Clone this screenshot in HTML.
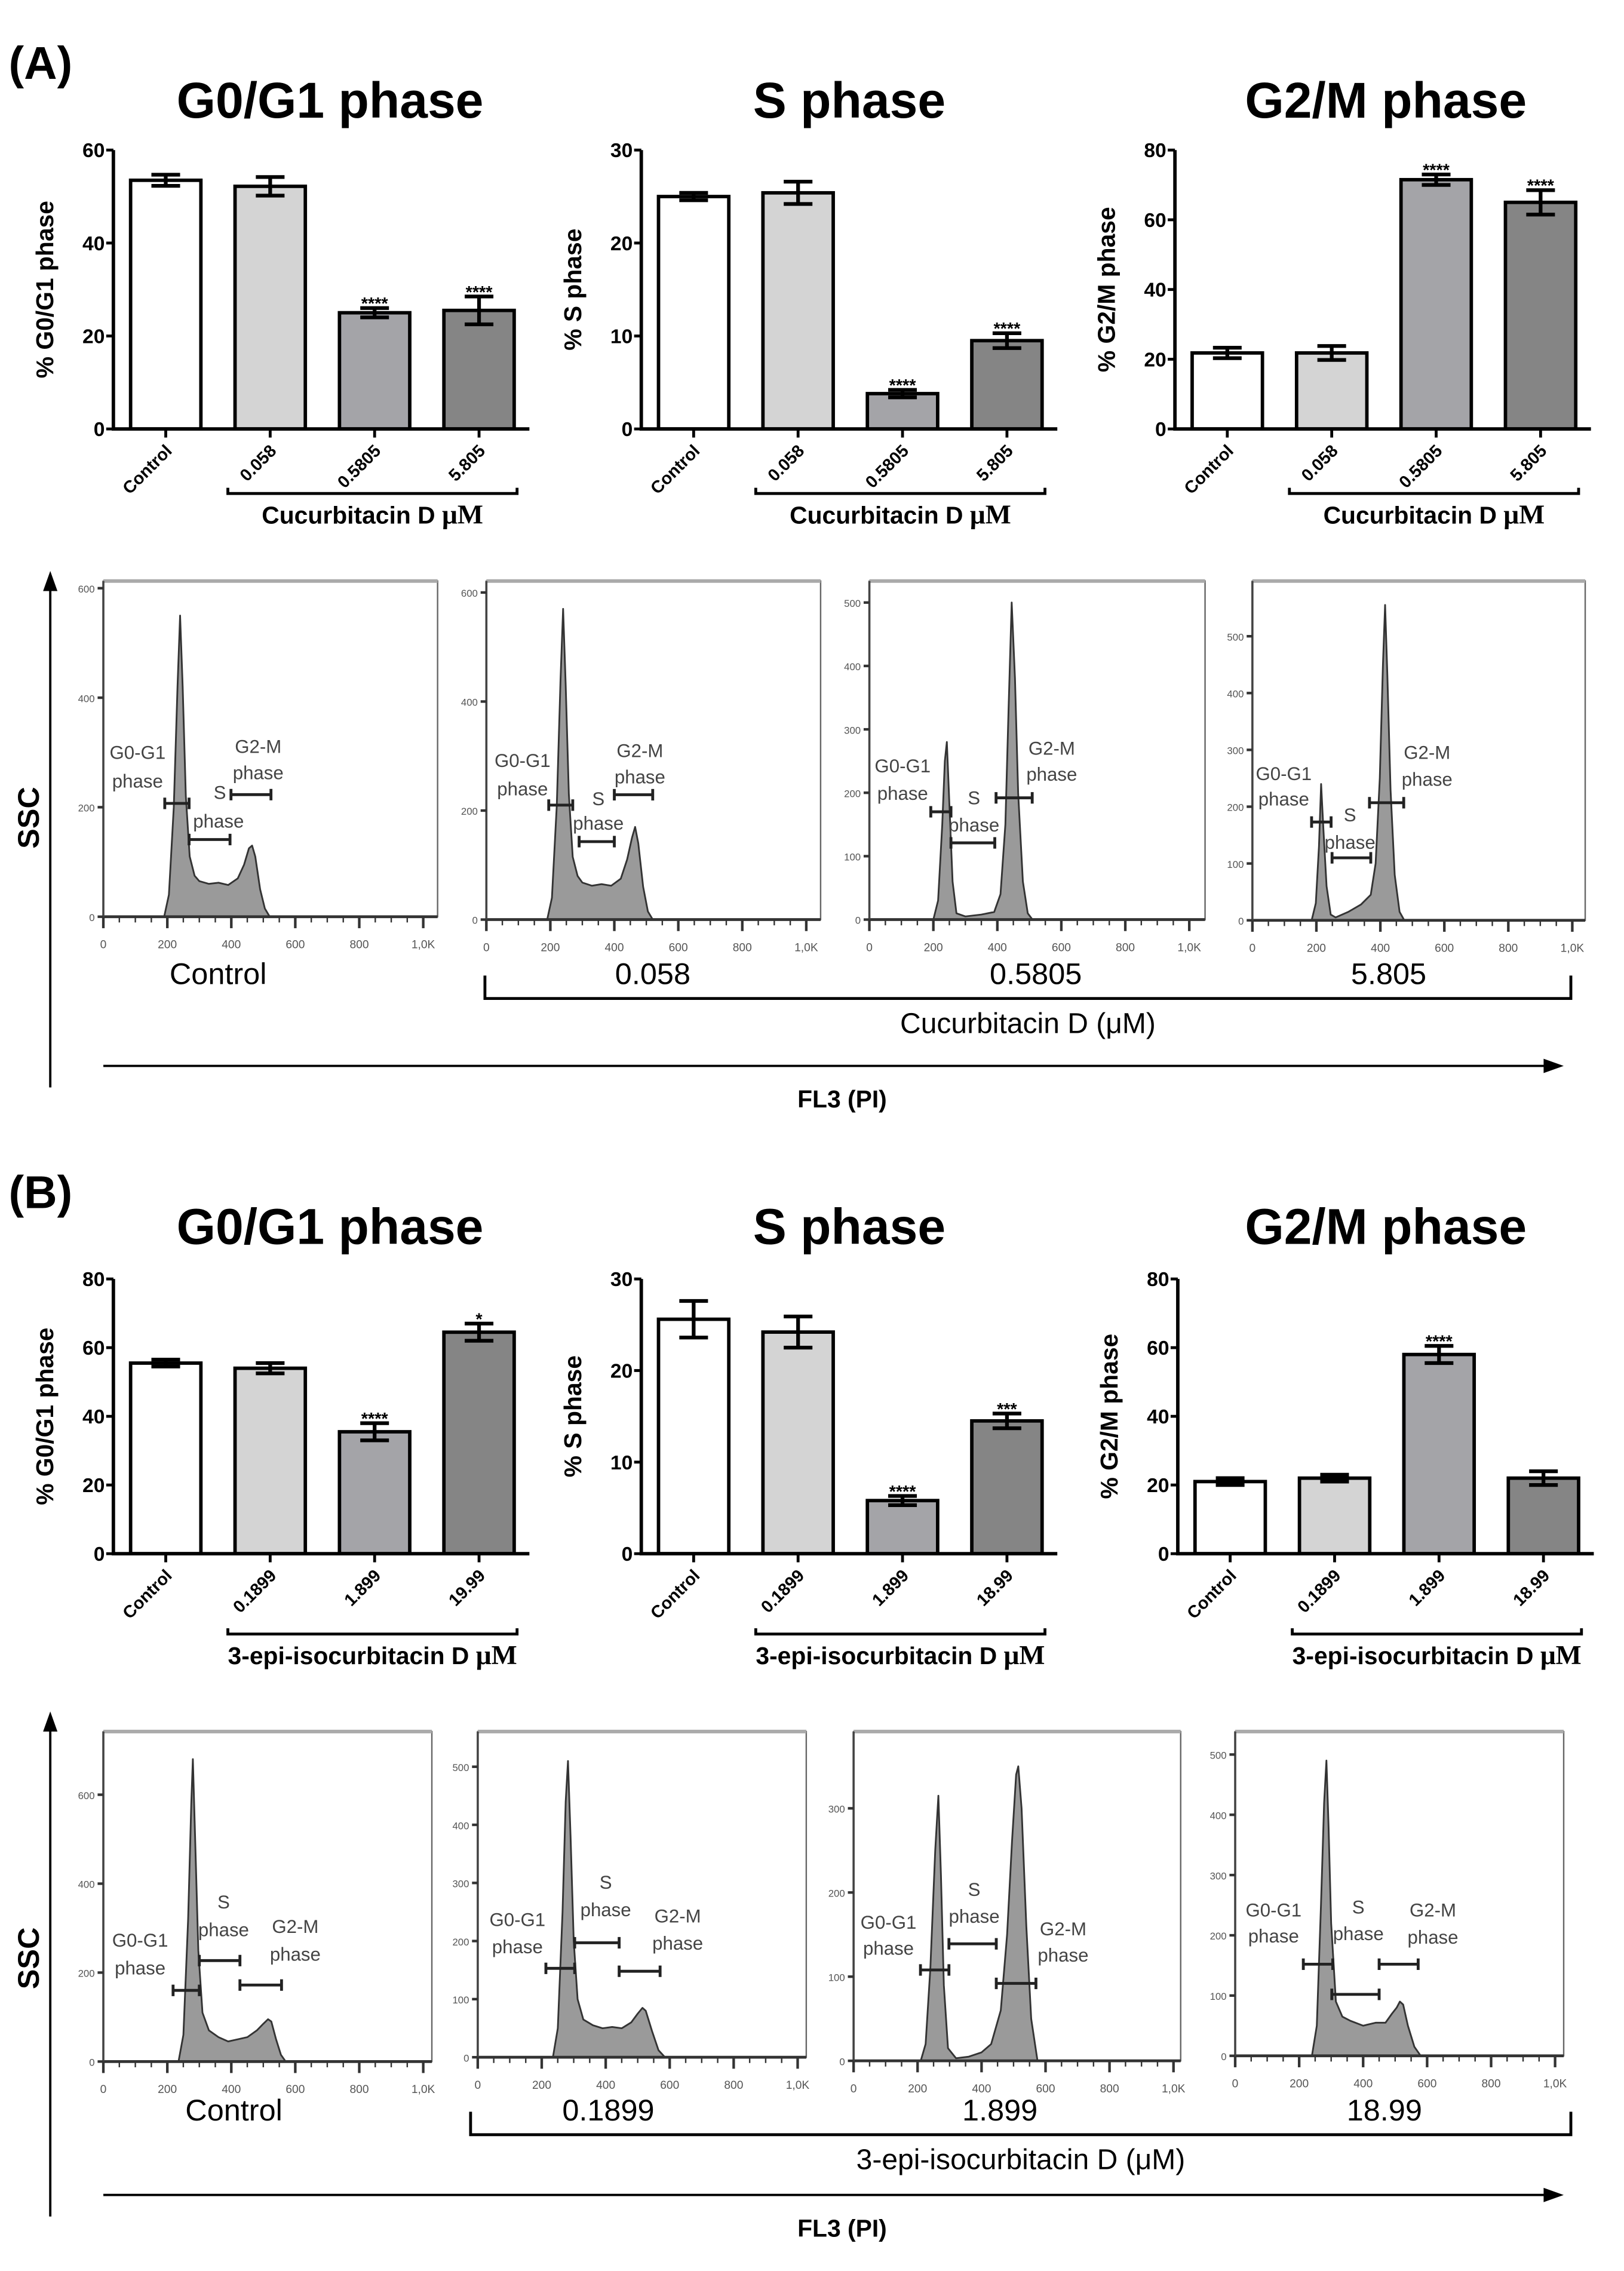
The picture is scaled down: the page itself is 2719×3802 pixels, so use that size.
<!DOCTYPE html>
<html><head><meta charset="utf-8">
<style>
html,body{margin:0;padding:0;background:#fff;}
svg{display:block;}
</style></head>
<body>
<svg id="fig" xmlns="http://www.w3.org/2000/svg" width="2719" height="3802" viewBox="0 0 1132 1583" font-family="Liberation Sans, Arial, sans-serif">
<rect x="0" y="0" width="1132" height="1583" fill="#fff"/>
<text x="6" y="55" font-size="32" font-weight="bold">(A)</text>
<text x="6" y="842" font-size="32" font-weight="bold">(B)</text>
<text x="230" y="82" font-size="35" font-weight="bold" text-anchor="middle">G0/G1 phase</text>
<text x="592" y="82" font-size="35" font-weight="bold" text-anchor="middle">S phase</text>
<text x="966" y="82" font-size="35" font-weight="bold" text-anchor="middle">G2/M phase</text>
<text x="230" y="867" font-size="35" font-weight="bold" text-anchor="middle">G0/G1 phase</text>
<text x="592" y="867" font-size="35" font-weight="bold" text-anchor="middle">S phase</text>
<text x="966" y="867" font-size="35" font-weight="bold" text-anchor="middle">G2/M phase</text>
<g id="layer"></g>
</svg>
<script>
// ---------- bar chart data ----------
const catsA = ["Control","0.058","0.5805","5.805"];
const catsB1 = ["Control","0.1899","1.899","19.99"];
const catsB = ["Control","0.1899","1.899","18.99"];
const a1Vals = [53.5,52.2,25,25.5];
const a1Errs = [1.2,2,1,3];
const a1Stars = ["","","****","****"];
const a2Vals = [25,25.4,3.8,9.5];
const a2Errs = [0.4,1.2,0.4,0.8];
const a2Stars = ["","","****","****"];
const a3Vals = [21.8,21.8,71.5,65];
const a3Errs = [1.5,2,1.5,3.5];
const a3Stars = ["","","****","****"];
const b1Vals = [55.5,54,35.5,64.5];
const b1Errs = [1,1.5,2.5,2.5];
const b1Stars = ["","","****","*"];
const b2Vals = [25.6,24.2,5.8,14.5];
const b2Errs = [2,1.7,0.5,0.8];
const b2Stars = ["","","****","***"];
const b3Vals = [21,22,58,22];
const b3Errs = [1,1,2.5,2];
const b3Stars = ["","","****",""];
const ticks60 = [0,20,40,60];
const ticks30 = [0,10,20,30];
const ticks80 = [0,20,40,60,80];
// ---------- histogram data (FL3 value, count) ----------
const a1X=[0,190,205,220,232,240,248,258,270,285,300,330,360,390,420,440,455,465,475,490,505,520,1000];
const a1Y=[0,0,40,200,420,550,420,220,110,75,65,60,62,58,70,95,125,130,110,50,15,0,0];
const a2X=[0,190,205,220,232,240,248,258,270,285,300,330,360,390,420,440,455,465,475,490,505,520,1000];
const a2Y=[0,0,40,210,440,570,430,230,115,80,68,62,65,62,75,110,150,170,140,60,15,0,0];
const a3X=[0,200,215,228,236,242,250,260,272,300,350,390,410,425,435,445,455,465,480,495,510,1000];
const a3Y=[0,0,30,150,250,280,180,60,10,5,8,12,40,150,330,500,380,200,60,10,0,0];
const a4X=[0,185,198,208,215,222,232,245,260,300,340,370,385,398,408,415,422,432,445,460,475,1000];
const a4Y=[0,0,30,130,240,160,60,10,5,15,28,45,100,250,450,555,430,230,80,15,0,0];
const b1X=[0,235,250,265,275,280,287,297,310,330,360,390,420,450,480,500,515,525,540,555,570,1000];
const b1Y=[0,0,60,320,580,680,500,250,110,70,55,45,50,55,70,85,95,90,50,15,0,0];
const b2X=[0,235,250,265,275,282,290,300,312,330,360,390,420,450,480,500,515,525,545,565,585,1000];
const b2Y=[0,0,50,250,440,510,380,200,100,65,55,50,52,50,60,75,85,80,45,12,0,0];
const b3X=[0,210,225,240,255,265,273,282,295,320,360,400,430,460,480,495,508,515,525,540,555,575,1000];
const b3Y=[0,0,20,110,250,315,220,90,15,3,5,10,20,60,150,260,340,350,300,160,50,0,0];
const b4X=[0,240,255,268,278,285,292,300,315,335,360,400,440,470,490,505,515,525,540,560,580,1000];
const b4Y=[0,0,50,250,420,490,380,220,90,65,58,50,55,55,70,80,90,85,50,15,0,0];
// gates [start, end, count]
const a1Gates=[[192,268,207],[268,396,141],[399,524,223]];
const a2Gates=[[195,270,210],[290,400,143],[400,520,229]];
const a3Gates=[[192,255,170],[255,392,121],[396,509,192]];
const a4Gates=[[185,246,173],[249,370,110],[366,473,207]];
const b1Gates=[[218,300,160],[300,427,227],[427,557,172]];
const b2Gates=[[213,303,153],[303,442,197],[442,570,148]];
const b3Gates=[[209,298,108],[298,446,139],[446,570,92]];
const b4Gates=[[213,305,152],[302,450,102],[450,572,152]];
// gate labels [text, x, count]
const a1Labels=[["G0-G1",107,288],["phase",107,236],["S",364,215],["phase",360,163],["G2-M",484,299],["phase",484,251]];
const a2Labels=[["G0-G1",113,280],["phase",113,228],["S",350,210],["phase",350,165],["G2-M",480,298],["phase",480,250]];
const a3Labels=[["G0-G1",104,232],["phase",104,189],["S",327,182],["phase",327,139],["G2-M",570,260],["phase",570,219]];
const a4Labels=[["G0-G1",98,247],["phase",98,202],["S",305,174],["phase",305,126],["G2-M",546,284],["phase",546,237]];
const b1Labels=[["G0-G1",115,258],["phase",115,196],["S",376,344],["phase",376,282],["G2-M",600,289],["phase",600,227]];
const b2Labels=[["G0-G1",124,226],["phase",124,179],["S",400,290],["phase",400,243],["G2-M",625,232],["phase",625,185]];
const b3Labels=[["G0-G1",109,157],["phase",109,126],["S",377,196],["phase",377,164],["G2-M",655,149],["phase",655,118]];
const b4Labels=[["G0-G1",120,231],["phase",120,188],["S",385,236],["phase",385,192],["G2-M",618,231],["phase",618,186]];
const xTickLabels=["0","200","400","600","800","1,0K"];
const xTickVals=[0,200,400,600,800,1000];
const ticks600=[0,200,400,600];
const ticks500=[0,100,200,300,400,500];
const ticks300=[0,100,200,300];

const NS="http://www.w3.org/2000/svg";
const layer=document.getElementById('layer');
function mk(tag,attrs,parent,txt){
  const e=document.createElementNS(NS,tag);
  for(const k in attrs) e.setAttribute(k,attrs[k]);
  if(txt!==undefined) e.textContent=txt;
  (parent||layer).appendChild(e);
  return e;
}
const fills=["#ffffff","#d4d4d4","#a4a4a8","#858585"];

function barChart(X0,yB,yT,maxV,ticks,vals,errs,stars,cats,ytitle,brTxt,brOff,name){
  const g=mk('g',{});
  
  
  const ys=v=>yB-(v/maxV)*(yB-yT);
  const bx=i=>X0+12+i*72.8;
  const bw=49;
  // bars
  vals.forEach((v,i)=>{
    const r=mk('rect',{x:bx(i),y:ys(v),width:bw,height:yB-ys(v),fill:fills[i],stroke:'#000','stroke-width':2.4},g);
    
    
    const cx=bx(i)+bw/2, t=ys(v+errs[i]), b=ys(v-errs[i]);
    const e=mk('path',{d:`M${cx} ${t}V${b}M${cx-10} ${t}H${cx+10}M${cx-10} ${b}H${cx+10}`,stroke:'#000','stroke-width':2.6,fill:'none'},g);
    
    
    if(stars[i]){
      const s=mk('text',{x:cx,y:t+1,'font-size':12,'font-weight':'bold','text-anchor':'middle'},g,stars[i]);
      
      
    }
    mk('line',{x1:cx,x2:cx,y1:yB,y2:yB+6,stroke:'#000','stroke-width':2},g);
    const lb=mk('text',{x:cx+5,y:yB+16,'font-size':12,'font-weight':'bold','text-anchor':'end',transform:`rotate(-45 ${cx+5} ${yB+16})`},g,cats[i]);
    
    
  });
  // axes
  const ax=mk('path',{d:`M${X0} ${yT}V${yB}H${X0+290}`,stroke:'#000','stroke-width':2.4,fill:'none'},g);
  
  
  ticks.forEach(t=>{
    mk('line',{x1:X0-5,x2:X0,y1:ys(t),y2:ys(t),stroke:'#000','stroke-width':2},g);
    const tl=mk('text',{x:X0-6,y:ys(t)+5,'font-size':14,'font-weight':'bold','text-anchor':'end'},g,String(t));
    
    
  });
  const yc=(yB+yT)/2, xt=X0-42;
  const yt=mk('text',{x:xt,y:yc,'font-size':17,'font-weight':'bold','text-anchor':'middle',transform:`rotate(-90 ${xt} ${yc})`},g,ytitle);
  
  
  const by=yB+brOff, x1=bx(1)-5, x2=bx(3)+bw+2;
  const br=mk('path',{d:`M${x1} ${by-4}V${by}H${x2}V${by-4}`,stroke:'#000','stroke-width':2,fill:'none'},g);
  
  
  const bt=mk('text',{x:(x1+x2)/2,y:by+21,'font-size':17,'font-weight':'bold','text-anchor':'middle'},g);
  
  
  mk('tspan',{},bt,brTxt+" ");
  mk('tspan',{'font-family':'Liberation Serif, serif','font-size':19},bt,"μM");
}

barChart(79,299,104.6,60,ticks60,a1Vals,a1Errs,a1Stars,catsA,"% G0/G1 phase","Cucurbitacin D",45,"a-g0g1-chart");
barChart(447,299,104.6,30,ticks30,a2Vals,a2Errs,a2Stars,catsA,"% S phase","Cucurbitacin D",45,"a-s-chart");
barChart(819,299,104.6,80,ticks80,a3Vals,a3Errs,a3Stars,catsA,"% G2/M phase","Cucurbitacin D",45,"a-g2m-chart");
barChart(79,1083,891.5,80,ticks80,b1Vals,b1Errs,b1Stars,catsB1,"% G0/G1 phase","3-epi-isocurbitacin D",56,"b-g0g1-chart");
barChart(447,1083,891.5,30,ticks30,b2Vals,b2Errs,b2Stars,catsB,"% S phase","3-epi-isocurbitacin D",56,"b-s-chart");
barChart(821,1083,891.5,80,ticks80,b3Vals,b3Errs,b3Stars,catsB,"% G2/M phase","3-epi-isocurbitacin D",56,"b-g2m-chart");

function hist(L,top,bot,W,maxV,spanPx,yticks,xs,ys,gates,labels,name){
  const g=mk('g',{});
  
  
  const sx=v=>L+v*0.223;
  const sy=v=>bot-v/maxV*spanPx;
  const box=mk('rect',{x:L,y:top,width:W,height:bot-top,fill:'#fff',stroke:'#666','stroke-width':1},g);
  
  
  mk('line',{x1:L,x2:L+W,y1:top,y2:top,stroke:'#aaa','stroke-width':2.5},g);
  let d=`M${sx(xs[0])} ${sy(ys[0])}`;
  for(let i=1;i<xs.length;i++) d+=`L${sx(xs[i]).toFixed(1)} ${sy(ys[i]).toFixed(1)}`;
  const p=mk('path',{d:d+`L${sx(xs[xs.length-1])} ${bot}L${sx(xs[0])} ${bot}Z`,fill:'#9a9a9a',stroke:'#333','stroke-width':1.2,'stroke-linejoin':'round'},g);
  
  
  // x axis
  mk('line',{x1:L,x2:L+W,y1:bot,y2:bot,stroke:'#333','stroke-width':2},g);
  for(let v=0;v<=1000;v+=50){
    const big=v%200===0;
    mk('line',{x1:sx(v),x2:sx(v),y1:bot,y2:bot+(big?8:4),stroke:'#333','stroke-width':big?1.8:1},g);
  }
  xTickVals.forEach((v,i)=>{
    const t=mk('text',{x:sx(v),y:bot+22,'font-size':8,fill:'#555','text-anchor':'middle'},g,xTickLabels[i]);
    
    
  });
  // y axis ticks
  mk('line',{x1:L,x2:L,y1:top,y2:bot,stroke:'#444','stroke-width':1.5},g);
  yticks.forEach(v=>{
    mk('line',{x1:L-4,x2:L,y1:sy(v),y2:sy(v),stroke:'#333','stroke-width':1.8},g);
    const t=mk('text',{x:L-6,y:sy(v)+3,'font-size':7,fill:'#555','text-anchor':'end'},g,String(v));
    
    
  });
  gates.forEach(gt=>{
    const y=sy(gt[2]), a=sx(gt[0]), b=sx(gt[1]);
    const e=mk('path',{d:`M${a} ${y}H${b}M${a} ${y-4}V${y+4}M${b} ${y-4}V${y+4}`,stroke:'#222','stroke-width':2,fill:'none'},g);
    
    
  });
  labels.forEach(lb=>{
    const t=mk('text',{x:sx(lb[1]),y:sy(lb[2]),'font-size':13,fill:'#444','text-anchor':'middle'},g,lb[0]);
    
    
  });
}
hist(72,405,639,233,600,229,ticks600,a1X,a1Y,a1Gates,a1Labels,"a-hist-control");
hist(339,405,641,233,600,228,ticks600,a2X,a2Y,a2Gates,a2Labels,"a-hist-0.058");
hist(606,405,641,234,500,221,ticks500,a3X,a3Y,a3Gates,a3Labels,"a-hist-0.5805");
hist(873,405,641.5,232,500,198,ticks500,a4X,a4Y,a4Gates,a4Labels,"a-hist-5.805");
hist(72,1207,1437,229,600,186,ticks600,b1X,b1Y,b1Gates,b1Labels,"b-hist-control");
hist(333,1207,1434,229,500,202.5,ticks500,b2X,b2Y,b2Gates,b2Labels,"b-hist-0.1899");
hist(595,1207,1436.5,228,300,176,ticks300,b3X,b3Y,b3Gates,b3Labels,"b-hist-1.899");
hist(861,1207,1433,229,500,210,ticks500,b4X,b4Y,b4Gates,b4Labels,"b-hist-18.99");

function bottomLabels(yLab,ctrlX,vals,valX,brY,brX1,brX2,title,arrowY,arrowTop,sscY,pfx){
  const c=mk('text',{x:ctrlX,y:yLab,'font-size':21,'text-anchor':'middle'},layer,"Control");
  
  
  vals.forEach((v,i)=>{
    const t=mk('text',{x:valX[i],y:yLab,'font-size':21,'text-anchor':'middle'},layer,v);
    
    
  });
  const b=mk('path',{d:`M${brX1} ${brY-16}V${brY}H${brX2}V${brY-16}`,stroke:'#000','stroke-width':2,fill:'none'},layer);
  
  
  const tt=mk('text',{x:(brX1+brX2)/2,y:brY+24,'font-size':20,'text-anchor':'middle'},layer,title);
  
  
  const ar=mk('path',{d:`M72 ${arrowY}H1078`,stroke:'#000','stroke-width':1.6},layer);
  
  
  mk('path',{d:`M1090 ${arrowY}L1076 ${arrowY-5}L1076 ${arrowY+5}Z`,fill:'#000'},layer);
  const fl=mk('text',{x:587,y:arrowY+29,'font-size':17,'font-weight':'bold','text-anchor':'middle'},layer,"FL3 (PI)");
  
  
  const va=mk('path',{d:`M35 ${arrowY+15}V${arrowTop+10}`,stroke:'#000','stroke-width':1.6},layer);
  
  
  mk('path',{d:`M35 ${arrowTop-2}L30 ${arrowTop+12}L40 ${arrowTop+12}Z`,fill:'#000'},layer);
  const s=mk('text',{x:27,y:sscY,'font-size':21,'font-weight':'bold','text-anchor':'middle',transform:`rotate(-90 27 ${sscY})`},layer,"SSC");
  
  
}
bottomLabels(686,152,["0.058","0.5805","5.805"],[455,722,968],696,338,1095,"Cucurbitacin D (μM)",743,400,570,"a");
bottomLabels(1478,163,["0.1899","1.899","18.99"],[424,697,965],1488,328,1095,"3-epi-isocurbitacin D (μM)",1530,1195,1365,"b");
</script>
</body></html>
